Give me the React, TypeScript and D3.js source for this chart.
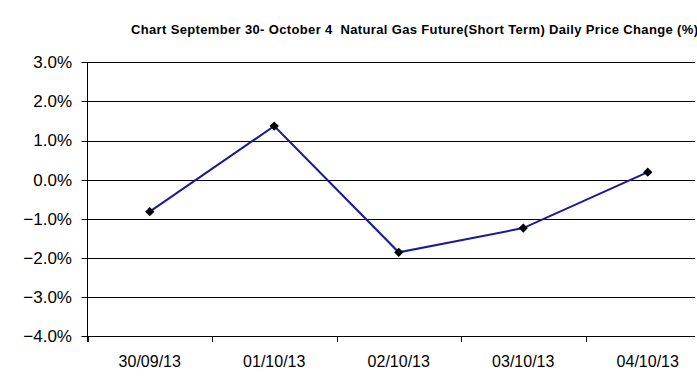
import React from "react";
import * as d3 from "d3";

const categories = ["30/09/13", "01/10/13", "02/10/13", "03/10/13", "04/10/13"];
const values = [-0.82, 1.37, -1.86, -1.24, 0.19];
const yTicks = [3, 2, 1, 0, -1, -2, -3, -4];
const title = "Chart September 30- October 4  Natural Gas Future(Short Term) Daily Price Change (%)";

const W = 697;
const H = 378;
const plotLeft = 87.5;
const bandW = 124.5;
const gridRight = 695;
const plotTop = 62.3;
const plotBottom = 336;

export default function App() {
  const y = d3.scaleLinear().domain([-4, 3]).range([plotBottom, plotTop]);
  const x = d3.scaleBand<string>().domain(categories).range([plotLeft, plotLeft + categories.length * bandW]);
  const cx = (c: string) => (x(c) as number) + x.bandwidth() / 2;
  const line = d3
    .line<number>()
    .x((_, i) => cx(categories[i]))
    .y((d) => y(d));
  const font = "'Liberation Sans', Arial, sans-serif";
  const diamond = d3.symbol(d3.symbolDiamond2, 55)() as string;
  const snap = (v: number) => Math.round(v) + 0.5;

  return (
    <div style={{ position: "absolute", left: 0, top: 0 }}>
      <svg width={W} height={H} style={{ display: "block", background: "#fff" }}>
        <text
          x={131}
          y={34}
          fontFamily={font}
          fontSize={13}
          fontWeight="bold"
          fill="#000"
          style={{ whiteSpace: "pre" }}
          textLength={567}
          lengthAdjust="spacing"
        >
          {title}
        </text>
        {yTicks.map((t) => (
          <g key={t}>
            <line x1={plotLeft - 6} x2={gridRight} y1={snap(y(t))} y2={snap(y(t))} stroke="#000" strokeWidth={1} />
            <text x={72} y={y(t)} dy="0.35em" textAnchor="end" fontFamily={font} fontSize={17} fill="#000">
              {d3.format(".1f")(t) + "%"}
            </text>
          </g>
        ))}
        <line x1={plotLeft} x2={plotLeft} y1={plotTop} y2={plotBottom + 6} stroke="#000" strokeWidth={1} />
        {categories.map((c) => (
          <line key={c} x1={snap(x(c) as number)} x2={snap(x(c) as number)} y1={plotBottom} y2={plotBottom + 6} stroke="#000" strokeWidth={1} />
        ))}
        {categories.map((c) => (
          <text key={c} x={cx(c)} y={366.5} textAnchor="middle" fontFamily={font} fontSize={16} fill="#000">
            {c}
          </text>
        ))}
        <path d={line(values) as string} fill="none" stroke="#1a1a99" strokeWidth={2} />
        {values.map((v, i) => (
          <path key={i} d={diamond} transform={`translate(${cx(categories[i])},${y(v)})`} fill="#000" />
        ))}
      </svg>
    </div>
  );
}
